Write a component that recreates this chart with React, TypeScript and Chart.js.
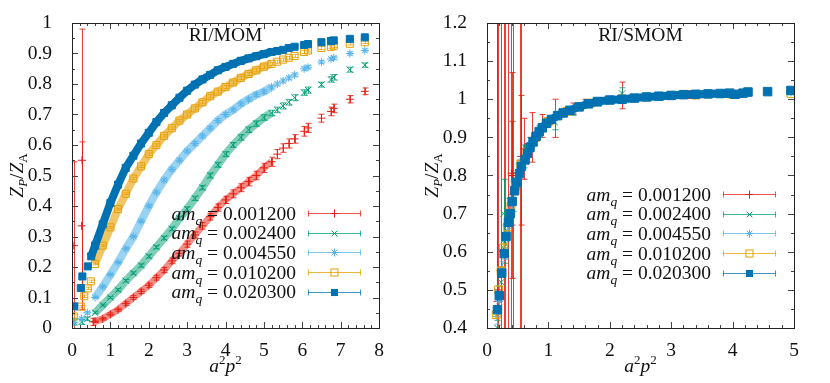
import React, { useEffect, useRef } from "react";
import { Chart, registerables } from "chart.js";

Chart.register(...registerables);

const FONT = '"Liberation Serif", "Times New Roman", serif';

// ---------- series meta ----------
const MASS_LABELS = ["0.001200", "0.002400", "0.004550", "0.010200", "0.020300"];
const COLORS = ["#e51e10", "#009e73", "#56b4e9", "#e69f00", "#0072b2"];

// ---------- left panel: RI/MOM ----------
const MOM_X = [0.6, 0.8, 1.0, 1.2, 1.4, 1.6, 1.8, 2.0, 2.2, 2.4, 2.6, 2.8, 3.0, 3.2, 3.4, 3.6, 3.8, 4.0, 4.2, 4.4, 4.6, 4.8, 5.0, 5.2, 5.35, 5.5, 5.65, 5.8, 6.05, 6.15, 6.5, 6.75, 6.82, 7.24, 7.63];

const MOM_Y_0012 = [0.022, 0.03, 0.045, 0.06, 0.08, 0.1, 0.12, 0.14, 0.165, 0.19, 0.22, 0.245, 0.275, 0.305, 0.335, 0.365, 0.395, 0.42, 0.44, 0.46, 0.48, 0.5, 0.525, 0.545, 0.57, 0.59, 0.605, 0.62, 0.645, 0.656, 0.688, 0.71, 0.72, 0.75, 0.776];
const MOM_Y_0024 = [0.05, 0.075, 0.1, 0.125, 0.155, 0.18, 0.205, 0.235, 0.265, 0.295, 0.325, 0.36, 0.39, 0.425, 0.46, 0.5, 0.535, 0.57, 0.6, 0.625, 0.65, 0.67, 0.69, 0.705, 0.715, 0.728, 0.74, 0.755, 0.772, 0.78, 0.798, 0.815, 0.822, 0.847, 0.862];
const MOM_Y_00455 = [0.1, 0.135, 0.175, 0.215, 0.26, 0.3, 0.35, 0.4, 0.445, 0.485, 0.52, 0.55, 0.58, 0.605, 0.63, 0.655, 0.68, 0.7, 0.715, 0.735, 0.75, 0.765, 0.775, 0.79, 0.8, 0.81, 0.82, 0.83, 0.85, 0.855, 0.872, 0.882, 0.886, 0.9, 0.91];
const MOM_Y_0102 = [0.21, 0.27, 0.33, 0.39, 0.44, 0.49, 0.53, 0.57, 0.6, 0.63, 0.655, 0.68, 0.7, 0.72, 0.74, 0.76, 0.775, 0.79, 0.805, 0.82, 0.833, 0.845, 0.857, 0.866, 0.873, 0.88, 0.886, 0.892, 0.905, 0.91, 0.918, 0.922, 0.925, 0.932, 0.937];
const MOM_Y_0203 = [0.27, 0.34, 0.41, 0.47, 0.525, 0.565, 0.605, 0.64, 0.675, 0.705, 0.73, 0.755, 0.778, 0.798, 0.815, 0.83, 0.845, 0.856, 0.866, 0.876, 0.884, 0.891, 0.898, 0.905, 0.908, 0.912, 0.918, 0.922, 0.928, 0.931, 0.937, 0.941, 0.943, 0.948, 0.953];

const MOM_E_0012 = [0.004, 0.004, 0.005, 0.005, 0.006, 0.006, 0.007, 0.007, 0.008, 0.008, 0.009, 0.009, 0.01, 0.01, 0.011, 0.011, 0.012, 0.012, 0.013, 0.013, 0.014, 0.014, 0.015, 0.015, 0.015, 0.014, 0.015, 0.014, 0.016, 0.015, 0.013, 0.014, 0.014, 0.012, 0.011];
const MOM_E_0024 = [0.003, 0.003, 0.003, 0.004, 0.004, 0.004, 0.005, 0.005, 0.005, 0.006, 0.006, 0.006, 0.007, 0.007, 0.007, 0.008, 0.008, 0.008, 0.008, 0.009, 0.009, 0.009, 0.009, 0.009, 0.009, 0.01, 0.009, 0.01, 0.009, 0.01, 0.008, 0.009, 0.009, 0.008, 0.007];
const MOM_E_00455 = [0.003, 0.003, 0.003, 0.003, 0.004, 0.004, 0.004, 0.004, 0.005, 0.005, 0.005, 0.005, 0.005, 0.006, 0.006, 0.006, 0.006, 0.006, 0.006, 0.006, 0.006, 0.006, 0.006, 0.006, 0.006, 0.006, 0.006, 0.006, 0.006, 0.006, 0.005, 0.005, 0.005, 0.005, 0.005];
const MOM_E_0102 = [0.003, 0.003, 0.003, 0.003, 0.003, 0.004, 0.004, 0.004, 0.004, 0.004, 0.004, 0.004, 0.005, 0.005, 0.005, 0.005, 0.005, 0.005, 0.005, 0.005, 0.005, 0.005, 0.005, 0.005, 0.005, 0.005, 0.005, 0.005, 0.005, 0.005, 0.005, 0.005, 0.005, 0.004, 0.004];
const MOM_E_0203 = [0.002, 0.002, 0.002, 0.002, 0.002, 0.003, 0.003, 0.003, 0.003, 0.003, 0.003, 0.003, 0.003, 0.003, 0.003, 0.003, 0.003, 0.003, 0.003, 0.003, 0.003, 0.003, 0.003, 0.003, 0.003, 0.003, 0.003, 0.003, 0.003, 0.003, 0.003, 0.003, 0.003, 0.003, 0.003];

const MOM_LOW_X_0012 = [0.05, 0.25, 0.26, 0.55];
const MOM_LOW_Y_0012 = [0.27, 0.335, 0.55, 0.02];
const MOM_LOW_E_0012 = [0.275, 0.275, 0.43, 0.012];
const MOM_LOW_X_0024 = [0.05, 0.25, 0.4];
const MOM_LOW_Y_0024 = [0.02, 0.02, 0.03];
const MOM_LOW_E_0024 = [0.01, 0.008, 0.006];
const MOM_LOW_X_00455 = [0.05, 0.25, 0.4];
const MOM_LOW_Y_00455 = [0.018, 0.03, 0.05];
const MOM_LOW_E_00455 = [0.005, 0.005, 0.004];
const MOM_LOW_X_0102 = [0.05, 0.23, 0.32, 0.41, 0.49];
const MOM_LOW_Y_0102 = [0.038, 0.07, 0.104, 0.13, 0.153];
const MOM_LOW_E_0102 = [0.005, 0.004, 0.004, 0.004, 0.004];
const MOM_LOW_X_0203 = [0.06, 0.23, 0.27, 0.41, 0.5];
const MOM_LOW_Y_0203 = [0.071, 0.131, 0.169, 0.202, 0.235];
const MOM_LOW_E_0203 = [0.004, 0.004, 0.004, 0.004, 0.004];

// ---------- right panel: RI/SMOM ----------
const SMOM_X_0012 = [0.165, 0.17, 0.175, 0.22, 0.27, 0.3, 0.35, 0.39, 0.4, 0.41, 0.43, 0.545, 0.55, 0.555, 0.6, 0.73, 0.9, 1.1, 1.4, 1.6, 2.2, 2.8, 3.3, 3.7];
const SMOM_Y_0012 = [0.44, 0.47, 0.5, 0.55, 0.6, 0.65, 0.69, 0.72, 0.806, 0.8, 0.75, 0.82, 0.84, 0.85, 0.87, 0.9, 0.93, 0.95, 0.975, 0.99, 1.01, 1.008, 1.012, 1.015];
const SMOM_E_0012 = [0.9, 0.9, 0.9, 0.9, 0.9, 0.9, 0.9, 0.9, 0.136, 0.27, 0.9, 0.9, 0.17, 0.9, 0.08, 0.065, 0.03, 0.05, 0.015, 0.01, 0.035, 0.006, 0.01, 0.006];

const SMOM_X_0024 = [0.17, 0.2, 0.23, 0.27, 0.3, 0.36, 0.42, 0.5, 0.6, 0.7, 0.85, 1.1, 1.4, 1.8, 2.2, 2.8, 3.3, 3.9, 4.25, 4.95];
const SMOM_Y_0024 = [0.4, 0.49, 0.52, 0.7, 0.62, 0.69, 0.745, 0.8, 0.85, 0.88, 0.915, 0.94, 0.968, 0.99, 1.015, 1.006, 1.012, 1.016, 1.02, 1.02];
const SMOM_E_0024 = [0.02, 0.02, 0.03, 0.09, 0.05, 0.05, 0.04, 0.03, 0.03, 0.02, 0.015, 0.02, 0.01, 0.008, 0.015, 0.005, 0.005, 0.005, 0.005, 0.005];

const SMOM_X_00455 = [0.16, 0.2, 0.25, 0.29, 0.34, 0.4, 0.47, 0.57, 0.68, 0.85, 1.1, 1.4, 1.8, 2.3, 2.9, 3.5, 4.0, 4.25, 4.95];
const SMOM_Y_00455 = [0.43, 0.47, 0.555, 0.6, 0.655, 0.725, 0.775, 0.835, 0.87, 0.91, 0.95, 0.97, 0.992, 1.0, 1.008, 1.012, 1.014, 1.018, 1.018];
const SMOM_E_00455 = [0.02, 0.02, 0.02, 0.02, 0.015, 0.015, 0.01, 0.01, 0.01, 0.008, 0.006, 0.005, 0.004, 0.004, 0.003, 0.003, 0.003, 0.003, 0.003];

const SMOM_X_0102 = [0.15, 0.19, 0.23, 0.27, 0.33, 0.39, 0.46, 0.55, 0.65, 0.8, 1.0, 1.3, 1.7, 2.2, 2.8, 3.4, 4.0, 4.25, 4.95];
const SMOM_Y_0102 = [0.435, 0.5, 0.55, 0.61, 0.665, 0.72, 0.77, 0.83, 0.86, 0.9, 0.942, 0.968, 0.99, 1.001, 1.007, 1.011, 1.012, 1.018, 1.015];
const SMOM_E_0102 = [0.01, 0.01, 0.01, 0.01, 0.01, 0.008, 0.008, 0.006, 0.006, 0.005, 0.004, 0.003, 0.003, 0.003, 0.002, 0.002, 0.002, 0.002, 0.002];

const SMOM_X_0203 = [0.17, 0.2, 0.24, 0.28, 0.31, 0.35, 0.38, 0.41, 0.45, 0.48, 0.53, 0.56, 0.62, 0.66, 0.7, 0.75, 0.8, 0.85, 0.9, 0.97, 1.05, 1.15, 1.24, 1.35, 1.5, 1.65, 1.8, 2.0, 2.2, 2.4, 2.6, 2.8, 3.0, 3.2, 3.4, 3.6, 3.8, 3.95, 4.04, 4.17, 4.25, 4.57, 4.95];
const SMOM_Y_0203 = [0.448, 0.485, 0.544, 0.595, 0.64, 0.677, 0.7, 0.732, 0.76, 0.782, 0.805, 0.824, 0.841, 0.858, 0.874, 0.888, 0.903, 0.915, 0.925, 0.937, 0.947, 0.957, 0.964, 0.971, 0.98, 0.988, 0.994, 0.998, 1.0, 1.003, 1.006, 1.008, 1.01, 1.012, 1.013, 1.014, 1.015, 1.016, 1.013, 1.016, 1.019, 1.02, 1.023];
const SMOM_E_0203 = [0.006, 0.006, 0.006, 0.005, 0.005, 0.005, 0.005, 0.004, 0.004, 0.004, 0.004, 0.004, 0.003, 0.003, 0.003, 0.003, 0.003, 0.003, 0.003, 0.003, 0.003, 0.002, 0.002, 0.002, 0.002, 0.002, 0.002, 0.002, 0.002, 0.002, 0.002, 0.002, 0.002, 0.002, 0.002, 0.002, 0.002, 0.002, 0.002, 0.002, 0.002, 0.002, 0.002];

// ---------- assembled panels ----------
type Series = { x: number[]; y: number[]; e: number[] };

const MOM_SERIES: Series[] = [
  { x: [...MOM_LOW_X_0012, ...MOM_X], y: [...MOM_LOW_Y_0012, ...MOM_Y_0012], e: [...MOM_LOW_E_0012, ...MOM_E_0012] },
  { x: [...MOM_LOW_X_0024, ...MOM_X], y: [...MOM_LOW_Y_0024, ...MOM_Y_0024], e: [...MOM_LOW_E_0024, ...MOM_E_0024] },
  { x: [...MOM_LOW_X_00455, ...MOM_X], y: [...MOM_LOW_Y_00455, ...MOM_Y_00455], e: [...MOM_LOW_E_00455, ...MOM_E_00455] },
  { x: [...MOM_LOW_X_0102, ...MOM_X], y: [...MOM_LOW_Y_0102, ...MOM_Y_0102], e: [...MOM_LOW_E_0102, ...MOM_E_0102] },
  { x: [...MOM_LOW_X_0203, ...MOM_X], y: [...MOM_LOW_Y_0203, ...MOM_Y_0203], e: [...MOM_LOW_E_0203, ...MOM_E_0203] },
];

const SMOM_SERIES: Series[] = [
  { x: SMOM_X_0012, y: SMOM_Y_0012, e: SMOM_E_0012 },
  { x: SMOM_X_0024, y: SMOM_Y_0024, e: SMOM_E_0024 },
  { x: SMOM_X_00455, y: SMOM_Y_00455, e: SMOM_E_00455 },
  { x: SMOM_X_0102, y: SMOM_Y_0102, e: SMOM_E_0102 },
  { x: SMOM_X_0203, y: SMOM_Y_0203, e: SMOM_E_0203 },
];

// ---------- styling ----------
const POINT_STYLES = ["cross", "crossRot", "star", "rect", "rect"];
const POINT_FILLED = [false, false, false, false, true];
const BAND_COLORS = ["rgba(229,30,16,0.5)", "rgba(0,158,115,0.5)", "rgba(86,180,233,0.6)", "rgba(230,159,0,0.6)", "rgba(0,114,178,1)"];
const ERR_COLORS = ["rgba(229,30,16,0.85)", "rgba(0,158,115,0.8)", "rgba(86,180,233,0.8)", "rgba(230,159,0,0.8)", "rgba(0,114,178,0.8)"];

function hexA(hex: string, a: number) {
  const n = parseInt(hex.slice(1), 16);
  return `rgba(${(n >> 16) & 255},${(n >> 8) & 255},${n & 255},${a})`;
}

type Panel = {
  title: string;
  series: Series[];
  xMin: number; xMax: number; xMajor: number; xMinor: number;
  yMin: number; yMax: number; yMajor: number; yMinor: number;
  bands: (number[] | null)[];
  bandWidths: number[];
  radii: number[];
  legendY: number;
};

const PANELS: Panel[] = [
  {
    title: "RI/MOM",
    series: MOM_SERIES,
    xMin: 0, xMax: 8, xMajor: 1, xMinor: 0.2,
    yMin: 0, yMax: 1, yMajor: 0.1, yMinor: 0.05,
    bands: [[0.6, 5.2], [0.6, 5.2], [0.6, 5.2], [0.6, 5.2], [0.5, 5.2]],
    bandWidths: [7, 8, 8, 8, 8],
    radii: [4, 4.5, 4, 5, 5],
    legendY: 213,
  },
  {
    title: "RI/SMOM",
    series: SMOM_SERIES,
    xMin: 0, xMax: 5, xMajor: 1, xMinor: 0.2,
    yMin: 0.4, yMax: 1.2, yMajor: 0.1, yMinor: 0.05,
    bands: [null, null, null, null, [0.62, 3.95]],
    bandWidths: [0, 0, 0, 0, 8],
    radii: [4, 4.5, 4, 5.5, 6],
    legendY: 194,
  },
];

// ---------- drawing helpers ----------
type Part = { t: string; font: string; dy: number };

function drawRich(ctx: CanvasRenderingContext2D, parts: Part[], x: number, y: number, align: "left" | "center" | "right") {
  let total = 0;
  const widths = parts.map((p) => {
    ctx.font = p.font;
    const w = ctx.measureText(p.t).width;
    total += w;
    return w;
  });
  let cx = align === "left" ? x : align === "center" ? x - total / 2 : x - total;
  ctx.textAlign = "left";
  ctx.textBaseline = "alphabetic";
  parts.forEach((p, i) => {
    ctx.font = p.font;
    ctx.fillText(p.t, cx, y + p.dy);
    cx += widths[i];
  });
}

function drawMarker(ctx: CanvasRenderingContext2D, style: string, x: number, y: number, r: number, color: string, filled: boolean) {
  ctx.save();
  ctx.strokeStyle = color;
  ctx.fillStyle = color;
  ctx.lineWidth = 1;
  ctx.beginPath();
  const d = r * Math.SQRT1_2;
  if (style === "cross" || style === "star") {
    ctx.moveTo(x - r, y); ctx.lineTo(x + r, y);
    ctx.moveTo(x, y - r); ctx.lineTo(x, y + r);
  }
  if (style === "crossRot" || style === "star") {
    ctx.moveTo(x - d, y - d); ctx.lineTo(x + d, y + d);
    ctx.moveTo(x - d, y + d); ctx.lineTo(x + d, y - d);
  }
  ctx.stroke();
  if (style === "rect") {
    if (filled) ctx.fillRect(x - d, y - d, 2 * d, 2 * d);
    else ctx.strokeRect(x - d, y - d, 2 * d, 2 * d);
  }
  ctx.restore();
}

const ITAL = (s: number) => `italic ${s}px ${FONT}`;
const ROM = (s: number) => `${s}px ${FONT}`;

const decorPlugin = {
  id: "decor",
  beforeDatasetDraw(chart: any, args: any) {
    const ds = chart.data.datasets[args.index];
    if (!ds.errors) return;
    const { ctx, chartArea: a } = chart;
    const xs = chart.scales.x;
    const ys = chart.scales.y;
    ctx.save();
    ctx.beginPath();
    ctx.rect(a.left, a.top, a.right - a.left, a.bottom - a.top);
    ctx.clip();
    ctx.strokeStyle = ds.errColor;
    ctx.lineWidth = 1;
    ctx.beginPath();
    ds.data.forEach((p: any, k: number) => {
      const e = ds.errors[k];
      if (!e) return;
      const px = Math.round(xs.getPixelForValue(p.x)) + 0.5;
      const y0 = ys.getPixelForValue(p.y - e);
      const y1 = ys.getPixelForValue(p.y + e);
      ctx.moveTo(px, y0); ctx.lineTo(px, y1);
      ctx.moveTo(px - 3, y0); ctx.lineTo(px + 3, y0);
      ctx.moveTo(px - 3, y1); ctx.lineTo(px + 3, y1);
    });
    ctx.stroke();
    ctx.restore();
  },
  afterDraw(chart: any) {
    const panel: Panel = chart.options.plugins.decor.panel;
    const { ctx, chartArea: a } = chart;
    const xs = chart.scales.x;
    const ys = chart.scales.y;
    ctx.save();
    // ticks
    ctx.strokeStyle = "#444";
    ctx.lineWidth = 1;
    ctx.beginPath();
    const nx = Math.round((panel.xMax - panel.xMin) / panel.xMinor);
    for (let k = 1; k < nx; k++) {
      const v = panel.xMin + k * panel.xMinor;
      const q = v / panel.xMajor;
      const len = Math.abs(q - Math.round(q)) < 1e-6 ? 6 : 3;
      const px = Math.round(xs.getPixelForValue(v)) + 0.5;
      ctx.moveTo(px, a.bottom); ctx.lineTo(px, a.bottom - len);
      ctx.moveTo(px, a.top); ctx.lineTo(px, a.top + len);
    }
    const ny = Math.round((panel.yMax - panel.yMin) / panel.yMinor);
    for (let k = 1; k < ny; k++) {
      const v = panel.yMin + k * panel.yMinor;
      const q = v / panel.yMajor;
      const len = Math.abs(q - Math.round(q)) < 1e-6 ? 6 : 3;
      const py = Math.round(ys.getPixelForValue(v)) + 0.5;
      ctx.moveTo(a.left, py); ctx.lineTo(a.left + len, py);
      ctx.moveTo(a.right, py); ctx.lineTo(a.right - len, py);
    }
    ctx.stroke();
    ctx.strokeStyle = "#222";
    ctx.strokeRect(Math.round(a.left) + 0.5, Math.round(a.top) + 0.5, Math.round(a.right - a.left), Math.round(a.bottom - a.top));

    ctx.fillStyle = "#111";
    // title
    ctx.font = ROM(19.5);
    ctx.textAlign = "center";
    ctx.textBaseline = "alphabetic";
    ctx.fillText(panel.title, (a.left + a.right) / 2, a.top + 17.5);

    // x axis title a^2 p^2
    drawRich(ctx, [
      { t: "a", font: ITAL(19.5), dy: 0 },
      { t: "2", font: ROM(13), dy: -8 },
      { t: "p", font: ITAL(19.5), dy: 0 },
      { t: "2", font: ROM(13), dy: -8 },
    ], (a.left + a.right) / 2, 371.5, "center");

    // y axis title Z_P / Z_A
    ctx.save();
    ctx.translate(23, (a.top + a.bottom) / 2);
    ctx.rotate(-Math.PI / 2);
    drawRich(ctx, [
      { t: "Z", font: ITAL(19.5), dy: 0 },
      { t: "P", font: ITAL(13), dy: 4 },
      { t: "/", font: ROM(19.5), dy: 0 },
      { t: "Z", font: ITAL(19.5), dy: 0 },
      { t: "A", font: ROM(13), dy: 4 },
    ], 0, 0, "center");
    ctx.restore();

    // legend
    const textRight = a.left + 224;
    const s0 = a.left + 236;
    const s1 = a.left + 289;
    const sm = (s0 + s1) / 2;
    MASS_LABELS.forEach((lab, i) => {
      const ly = panel.legendY + i * 19.7;
      ctx.fillStyle = "#111";
      drawRich(ctx, [
        { t: "am", font: ITAL(19.5), dy: 0 },
        { t: "q", font: ITAL(13.5), dy: 5 },
        { t: " = " + lab, font: ROM(19.5), dy: 0 },
      ], textRight, ly + 6.5, "right");
      ctx.strokeStyle = hexA(COLORS[i], 0.75);
      ctx.lineWidth = 1;
      ctx.beginPath();
      const yy = Math.round(ly) + 0.5;
      ctx.moveTo(s0, yy); ctx.lineTo(s1, yy);
      ctx.moveTo(s0 + 0.5, yy - 3); ctx.lineTo(s0 + 0.5, yy + 3);
      ctx.moveTo(s1 - 0.5, yy - 3); ctx.lineTo(s1 - 0.5, yy + 3);
      ctx.stroke();
      drawMarker(ctx, POINT_STYLES[i], sm, yy, i >= 3 ? 5 : 4, COLORS[i], POINT_FILLED[i]);
    });
    ctx.restore();
  },
};

function buildConfig(panel: Panel): any {
  const datasets: any[] = [];
  panel.series.forEach((s, i) => {
    const pts = s.x.map((x, k) => ({ x, y: s.y[k] }));
    const order = (4 - i) * 2;
    const band = panel.bands[i];
    if (band) {
      datasets.push({
        data: pts.filter((p) => p.x >= band[0] && p.x <= band[1]),
        showLine: true,
        borderColor: BAND_COLORS[i],
        borderWidth: panel.bandWidths[i],
        borderJoinStyle: "round",
        borderCapStyle: "butt",
        tension: 0,
        pointRadius: 0,
        order: order + 1,
      });
    }
    datasets.push({
      data: pts,
      errors: s.e,
      errColor: ERR_COLORS[i],
      showLine: false,
      pointStyle: POINT_STYLES[i],
      pointRadius: panel.radii[i],
      pointBorderWidth: 1,
      borderColor: COLORS[i],
      pointBorderColor: COLORS[i],
      pointBackgroundColor: POINT_FILLED[i] ? COLORS[i] : "rgba(255,255,255,0)",
      backgroundColor: POINT_FILLED[i] ? COLORS[i] : "rgba(255,255,255,0)",
      order,
    });
  });

  const tickFont = { family: FONT, size: 19.5 };
  return {
    type: "scatter",
    data: { datasets },
    options: {
      responsive: false,
      maintainAspectRatio: false,
      animation: false,
      devicePixelRatio: 1,
      events: [],
      layout: { padding: { top: 23, right: 36, bottom: 0, left: 0 } },
      plugins: {
        legend: { display: false },
        tooltip: { enabled: false },
        decor: { panel },
      },
      scales: {
        x: {
          type: "linear",
          min: panel.xMin,
          max: panel.xMax,
          grid: { display: false },
          border: { display: false },
          ticks: {
            stepSize: panel.xMajor,
            font: tickFont,
            color: "#111",
            padding: 3,
            maxRotation: 0,
            callback: (v: number) => String(Math.round(v * 10) / 10),
          },
          afterFit: (sc: any) => {
            sc.height = 55;
            sc.paddingLeft = 0;
            sc.paddingRight = 0;
          },
        },
        y: {
          type: "linear",
          min: panel.yMin,
          max: panel.yMax,
          grid: { display: false },
          border: { display: false },
          ticks: {
            stepSize: panel.yMajor,
            font: tickFont,
            color: "#111",
            padding: 12,
            callback: (v: number) => String(Math.round(v * 10) / 10),
          },
          afterFit: (sc: any) => {
            sc.width = 72;
            sc.paddingTop = 0;
            sc.paddingBottom = 0;
          },
        },
      },
    },
    plugins: [decorPlugin],
  };
}

function PanelChart({ panel, left }: { panel: Panel; left: number }) {
  const ref = useRef<HTMLCanvasElement | null>(null);
  useEffect(() => {
    if (!ref.current) return;
    const chart = new Chart(ref.current, buildConfig(panel));
    return () => chart.destroy();
  }, [panel]);
  return (
    <canvas
      ref={ref}
      width={415}
      height={383}
      style={{ position: "absolute", left, top: 0, width: 415, height: 383, display: "block" }}
    />
  );
}

export default function App() {
  return (
    <div style={{ position: "absolute", left: 0, top: 0, width: 830, height: 383, background: "#fff", overflow: "hidden" }}>
      <PanelChart panel={PANELS[0]} left={0} />
      <PanelChart panel={PANELS[1]} left={415} />
    </div>
  );
}
